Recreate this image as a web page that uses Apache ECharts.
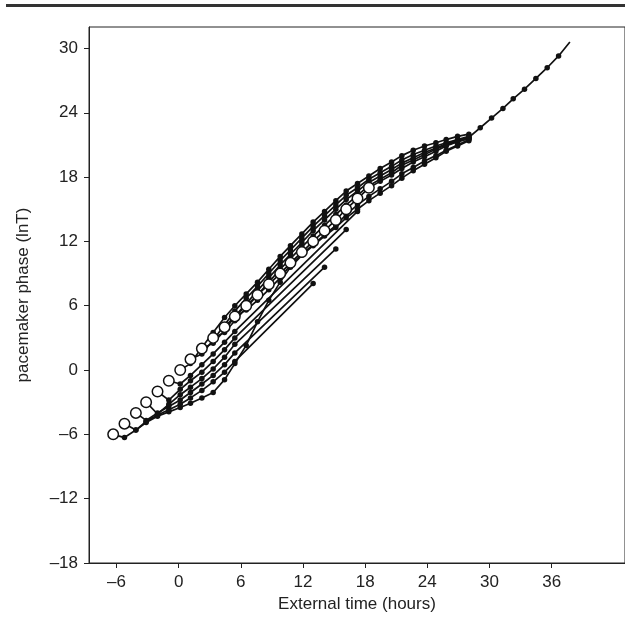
<!DOCTYPE html>
<html><head><meta charset="utf-8">
<script src="https://cdn.jsdelivr.net/npm/echarts@6/dist/echarts.min.js"></script>
<style>html,body{margin:0;padding:0;background:#fff}#c{width:625px;height:628px}</style>
</head><body><div id="c"></div>
<script>
// hourly sample times (external time, hours)
const hours = [-6.32,-5.23,-4.13,-3.14,-2.04,-0.95,0.15,1.14,2.24,3.33,4.43,5.42,6.52,7.61,8.70,9.80,10.79,11.89,12.98,14.08,15.17,16.17,17.26,18.36,19.45,20.55,21.54,22.64,23.73,24.83,25.82,26.92,28.01,29.11,30.20,31.30,32.29,33.38,34.48,35.57,36.67,37.76];
const xTicks = [-6,0,6,12,18,24,30,36];
const yTicks = [-18,-12,-6,0,6,12,18,24,30];
// open circles: starting points (index k into hours, phase)
const circleY = [-6,-5,-4,-3,-2,-1,0,1,2,3,4,5,6,7,8,9,10,11,12,13,14,15,16,17];

// trajectories: start index into hours + phase values
const lowStart = 0;
const lowTrack = [-6,-6.3,-5.6,-4.9,-4.3,-3.9,-3.5,-3.1,-2.6,-2.1,-0.9,0.6,2.3,4.5,6.5,8.2,9.6,10.7,11.6,12.5,13.3,14.2,15.0,15.8,16.5,17.2,17.9,18.6,19.2,19.8,20.4,20.9,21.4];

const jumpStart = [1,2,3,4,5];
const jumpTrack1 = [-5,-5.6,-4.8,-4.2,-3.7,-3.2,-2.6,-1.9,-1.1,-0.2,0.8];
const jumpTrack2 = [-4,-4.7,-4.0,-3.4,-2.8,-2.1,-1.3,-0.5,0.5,1.6];
const jumpTrack3 = [-3,-4.1,-3.2,-2.3,-1.6,-0.8,0.1,1.2,2.4];
const jumpTrack4 = [-2,-2.8,-1.8,-1.0,-0.2,0.8,1.9,3.0];
const jumpTrack5 = [-1,-1.3,-0.5,0.5,1.5,2.6,3.6];
const jumpEndIdx = [18,19,20,21,22];
const jumpEndY = [8.07,9.6,11.3,13.1,14.8];

const bandStart = [6,7,8,9,10,11];
const band0 = [0,0.6,2.1,3.5,4.9,6.0,7.1,8.2,9.4,10.6,11.6,12.7,13.8,14.8,15.8,16.7,17.4,18.1,18.8,19.4,20.0,20.5,20.9,21.2,21.5,21.8,22.0];
const band1 = [1,1.5,2.8,4.2,5.5,6.7,7.8,9.0,10.2,11.2,12.3,13.4,14.4,15.4,16.3,17.0,17.8,18.4,19.0,19.6,20.1,20.5,20.9,21.2,21.5,21.8];
const band2 = [2,2.5,3.7,5.0,6.2,7.4,8.6,9.8,10.8,11.9,13.0,14.0,15.0,15.9,16.7,17.5,18.1,18.7,19.3,19.8,20.3,20.7,21.1,21.4,21.7];
const band3 = [3,3.5,4.6,5.8,7.0,8.2,9.4,10.4,11.5,12.5,13.5,14.5,15.4,16.3,17.2,17.8,18.4,19.1,19.6,20.1,20.6,21.0,21.3,21.6];
const band4 = [4,5,6,7,8.0,9.0,10.0,11.0,12.0,13.0,14.0,15.0,16.0,17.0,17.6,18.2,18.8,19.4,19.9,20.4,20.9,21.3,21.6];
const band5 = [5,5.6,6.5,7.5,8.6,9.8,10.8,11.7,12.6,13.5,14.5,15.4,16.2,16.9,17.6,18.3,18.9,19.5,20.0,20.5,21.0,21.5];

const finalStart = 32;
const finalTrack = [21.7,22.6,23.5,24.4,25.3,26.2,27.2,28.2,29.3,30.6];

const INK = '#111';
function trackData(start, ys, firstHidden, lastHidden) {
  return ys.map((y, i) => ({
    value: [hours[start + i], y],
    symbolSize: (firstHidden && i === 0) || (lastHidden && i === ys.length - 1) ? 0 : 5.5
  }));
}
function lineSeries(data) {
  return {
    type: 'line', data: data, symbol: 'circle', showSymbol: true, showAllSymbol: true,
    itemStyle: { color: INK }, lineStyle: { color: INK, width: 1.7 },
    animation: false, silent: true, z: 2
  };
}
const series = [];
series.push(lineSeries(trackData(lowStart, lowTrack, true, false)));
[jumpTrack1, jumpTrack2, jumpTrack3, jumpTrack4, jumpTrack5].forEach((tr, i) => {
  const d = trackData(jumpStart[i], tr, true, false);
  d.push({ value: [hours[jumpEndIdx[i]], jumpEndY[i]], symbolSize: 5.5 });
  series.push(lineSeries(d));
});
[band0, band1, band2, band3, band4, band5].forEach((tr, i) => {
  series.push(lineSeries(trackData(bandStart[i], tr, true, false)));
});
series.push(lineSeries(trackData(finalStart, finalTrack, false, true)));
series.push({
  type: 'scatter', data: circleY.map((y, k) => [hours[k], y]), symbol: 'circle', symbolSize: 10.5,
  itemStyle: { color: '#fff', borderColor: INK, borderWidth: 1.5, opacity: 1 },
  animation: false, silent: true, z: 5
});

const fmt = v => String(v).replace('-', '\u2013');
const chart = echarts.init(document.getElementById('c'), null, { renderer: 'canvas' });
chart.setOption({
  backgroundColor: '#fff',
  animation: false,
  graphic: [{ type: 'rect', shape: { x: 6, y: 4, width: 625, height: 3 }, style: { fill: '#333' } }],
  grid: { left: 89, top: 27, width: 538, height: 536, show: true, borderColor: '#222', borderWidth: 1, backgroundColor: 'transparent' },
  xAxis: {
    type: 'value', min: -8.654, max: 43.08,
    name: 'External time (hours)', nameLocation: 'middle', nameGap: 32,
    nameTextStyle: { fontFamily: 'Liberation Sans', fontSize: 17, color: '#222' },
    axisLine: { show: true, onZero: false, lineStyle: { color: '#222', width: 1 } },
    axisTick: { show: true, length: 5, customValues: xTicks, lineStyle: { color: '#222' } },
    axisLabel: { customValues: xTicks, formatter: fmt, fontFamily: 'Liberation Sans', fontSize: 17, color: '#222', margin: 11 },
    splitLine: { show: false }
  },
  yAxis: {
    type: 'value', min: -18, max: 32,
    name: 'pacemaker phase (lnT)', nameLocation: 'middle', nameGap: 57, nameRotate: 90,
    nameTextStyle: { fontFamily: 'Liberation Sans', fontSize: 17, color: '#222' },
    axisLine: { show: true, onZero: false, lineStyle: { color: '#222', width: 1 } },
    axisTick: { show: true, length: 5, customValues: yTicks, lineStyle: { color: '#222' } },
    axisLabel: { customValues: yTicks, formatter: fmt, fontFamily: 'Liberation Sans', fontSize: 17, color: '#222', margin: 11 },
    splitLine: { show: false }
  },
  series: series
});
</script></body></html>
